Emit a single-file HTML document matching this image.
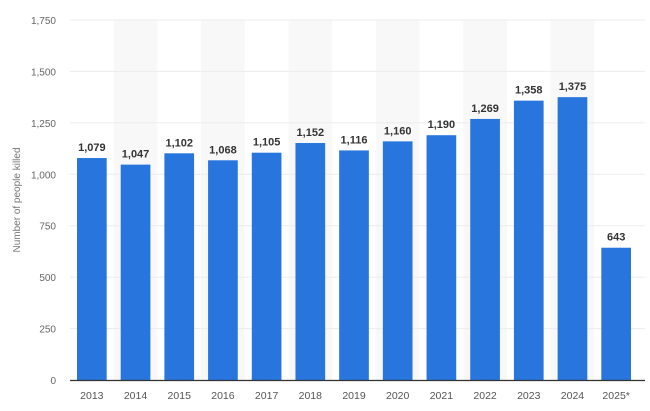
<!DOCTYPE html>
<html><head><meta charset="utf-8"><style>
body{margin:0;background:#fff;font-family:"Liberation Sans",sans-serif}
svg{display:block}
</style></head><body>
<svg id="c" width="650" height="411"></svg>
<script>
const categories=["2013","2014","2015","2016","2017","2018","2019","2020","2021","2022","2023","2024","2025*"];
const values=[1079,1047,1102,1068,1105,1152,1116,1160,1190,1269,1358,1375,643];
const labels=["1,079","1,047","1,102","1,068","1,105","1,152","1,116","1,160","1,190","1,269","1,358","1,375","643"];
const ticks=[0,250,500,750,1000,1250,1500,1750];
const tickLabels=["0","250","500","750","1,000","1,250","1,500","1,750"];
const NS="http://www.w3.org/2000/svg";
const svg=document.getElementById('c');
const L=70,R=638,T=20,B=380,max=1750;
const bw=(R-L)/categories.length;
const y=v=>B-(v/max)*(B-T);
const x=i=>L+i*bw;
function mk(t,a,txt){const e=document.createElementNS(NS,t);for(const k in a)e.setAttribute(k,a[k]);if(txt!==undefined)e.textContent=txt;svg.appendChild(e);return e;}
categories.forEach((c,i)=>{if(i%2==1){const r=mk('rect',{x:x(i),y:T,width:bw,height:B-T,fill:'#f8f8f8'});

}});
ticks.forEach((t,i)=>{
const g=mk('line',{x1:L,x2:645,y1:y(t),y2:y(t),stroke:'#ececec','stroke-width':1});


const tl=mk('text',{x:56,y:y(t)+4,'text-anchor':'end','font-size':10,fill:'#666'},tickLabels[i]);


});
categories.forEach((c,i)=>{
const b=mk('rect',{x:x(i)+7,y:y(values[i]),width:bw-14,height:B-y(values[i]),fill:'#2876dd'});


const v=mk('text',{x:x(i)+bw/2,y:y(values[i])-7,'text-anchor':'middle','font-size':11,'font-weight':'bold',fill:'#333'},labels[i]);


const xl=mk('text',{x:x(i)+bw/2,y:399,'text-anchor':'middle','font-size':10.5,fill:'#555'},c);


});
const ax=mk('line',{x1:L,x2:645,y1:B+0.5,y2:B+0.5,stroke:'#333','stroke-width':1.2});


const yt=mk('text',{x:20,y:200,'text-anchor':'middle','font-size':10,fill:'#777',transform:'rotate(-90 20 200)'},'Number of people killed');


</script>
</body></html>
